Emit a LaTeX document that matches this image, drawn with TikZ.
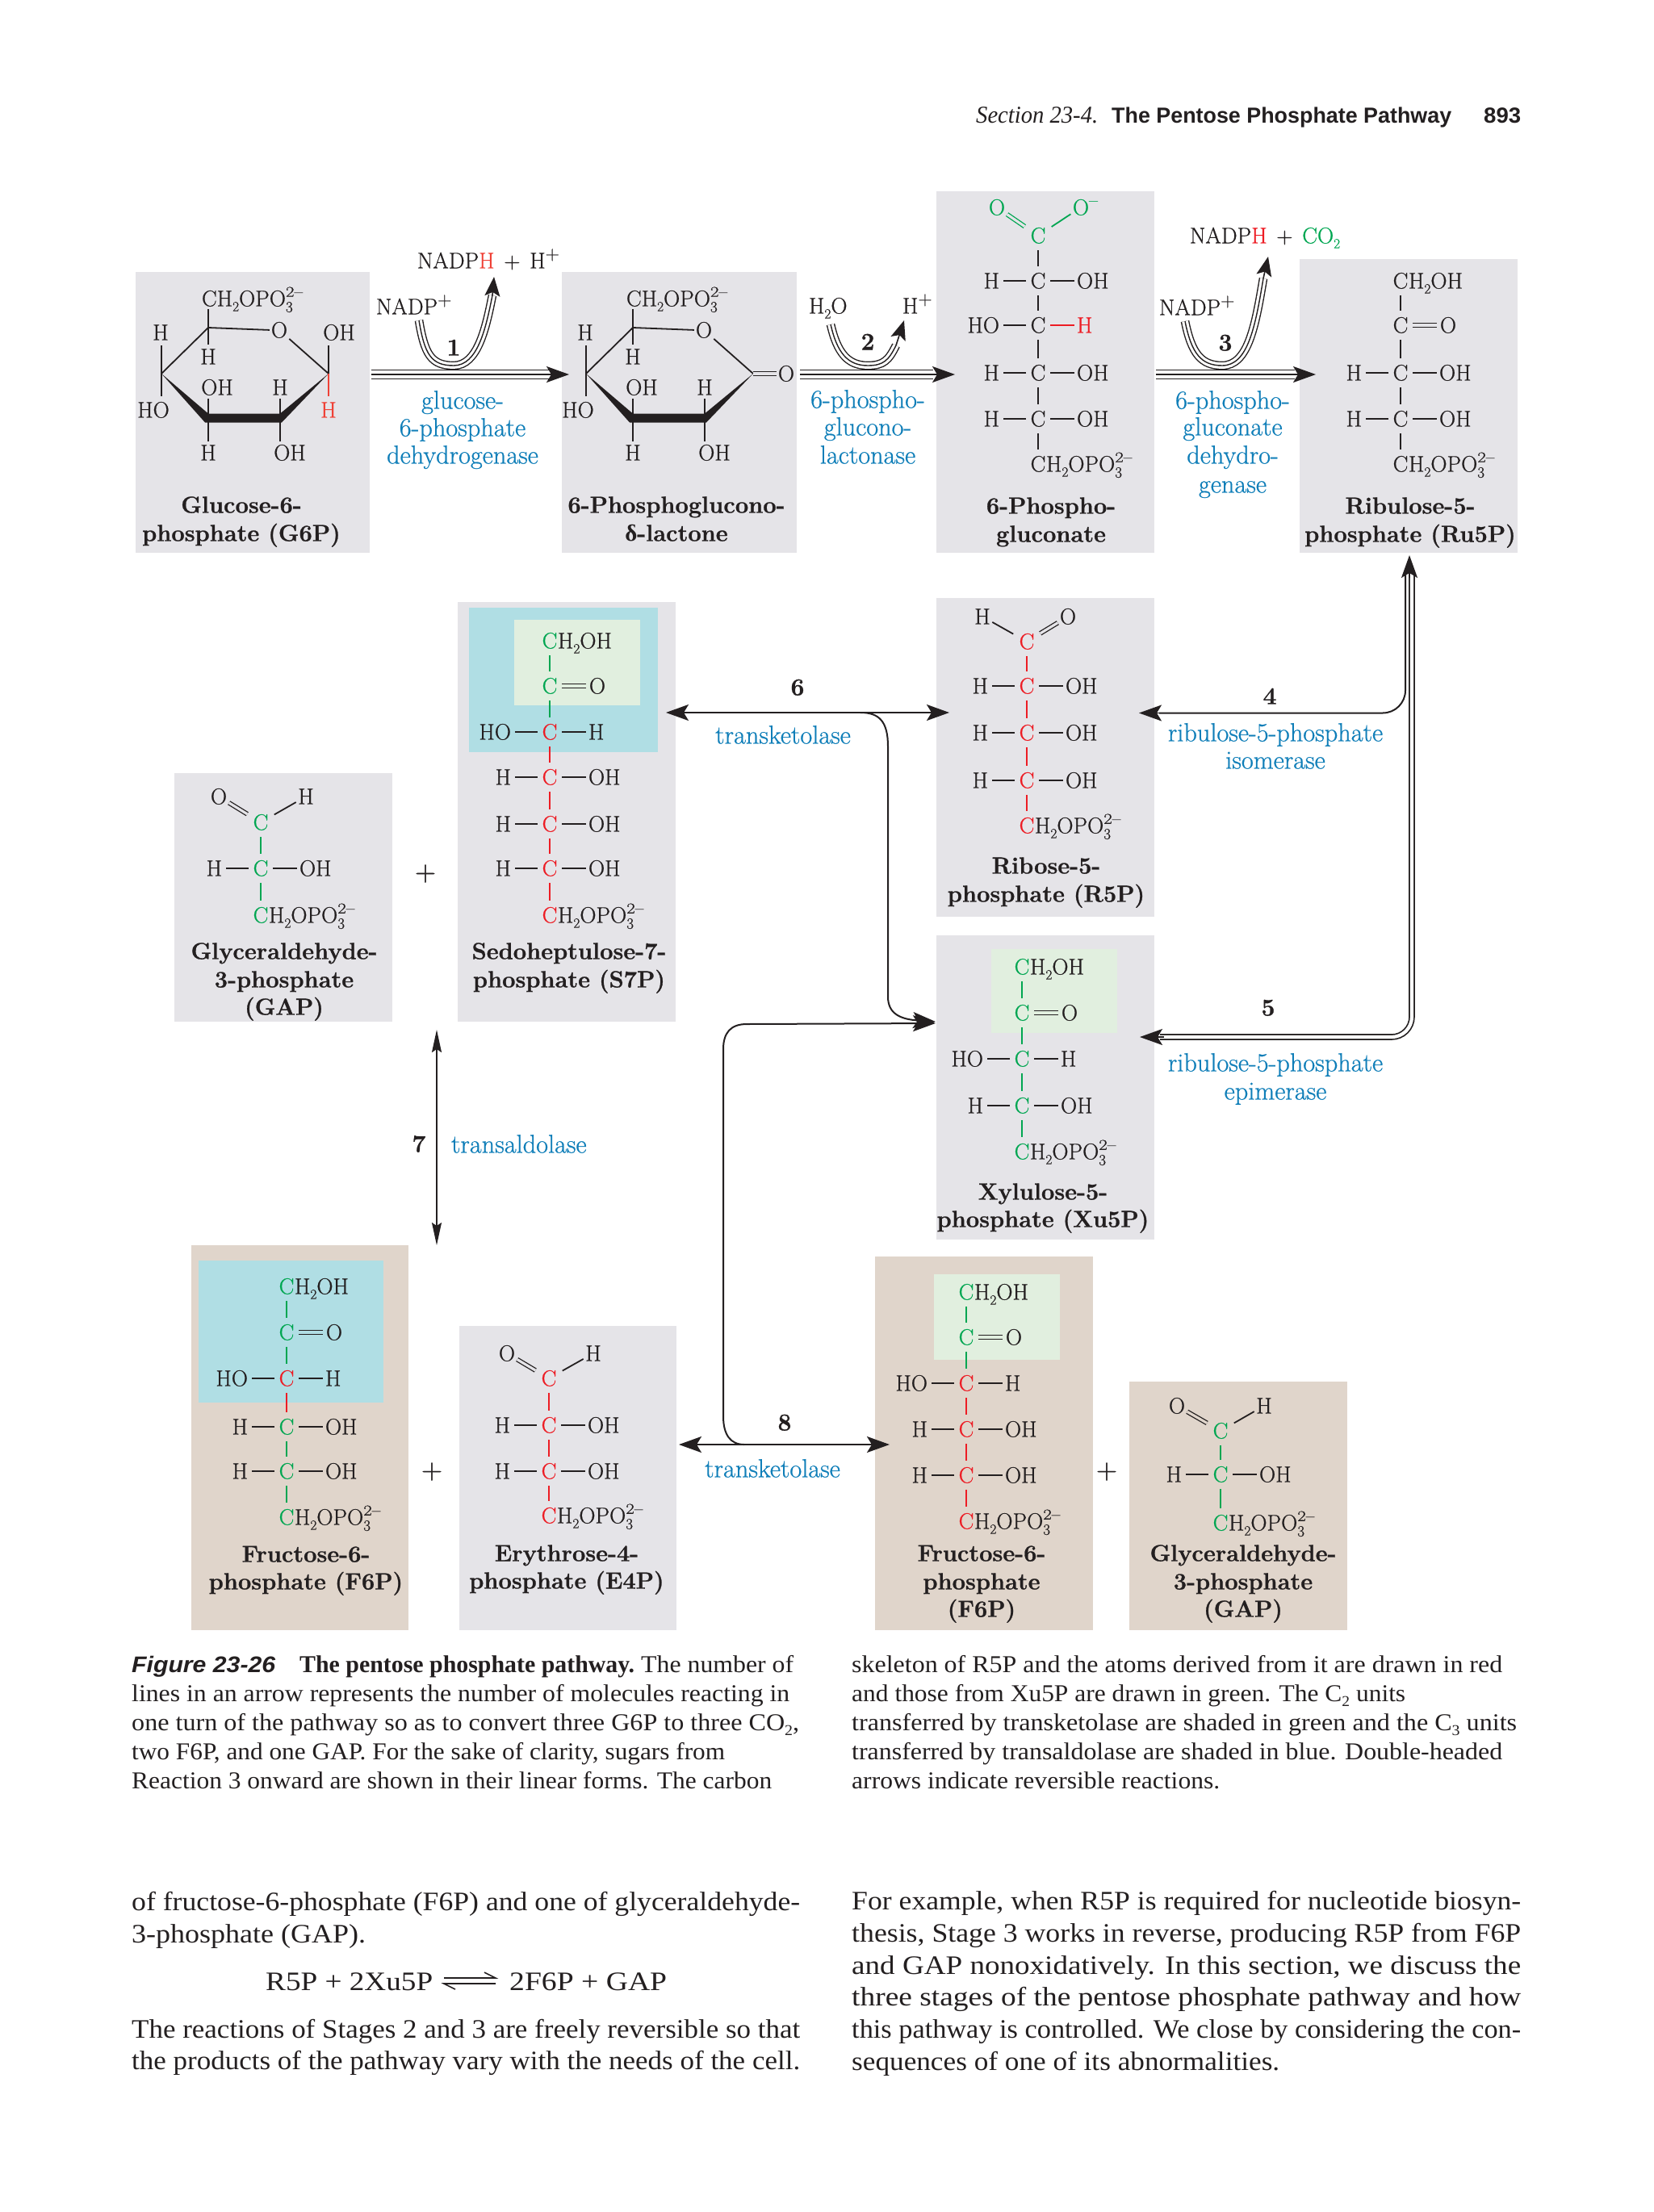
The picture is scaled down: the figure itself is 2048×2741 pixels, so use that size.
\documentclass[tikz,border=0pt]{standalone}
\usepackage{fontspec}
\usepackage{graphicx}
\usetikzlibrary{arrows.meta,calc}
\newfontfamily\lserif{Liberation Serif}
\newfontfamily\lsans{Liberation Sans}
\newfontfamily\chemf{Latin Modern Roman}[FakeBold=0.7]
\newfontfamily\namef{Latin Modern Roman}[FakeBold=0.9]
\definecolor{ink}{HTML}{231F20}
\definecolor{bgrey}{HTML}{E5E4E8}
\definecolor{btan}{HTML}{E0D5CB}
\definecolor{bblue}{HTML}{B0DEE4}
\definecolor{bgreen}{HTML}{E1EFDF}
\definecolor{tblue}{HTML}{0F7EB8}
\definecolor{cgreen}{HTML}{00A651}
\definecolor{cred}{HTML}{ED1C24}
\definecolor{ored}{HTML}{EF4136}
\newcommand\sbs[1]{\raisebox{-.22em}{\scalebox{.62}{#1}}}
\newcommand\spb[1]{\raisebox{.38em}{\scalebox{.85}{#1}}}
\newcommand\stk[2]{\rlap{\raisebox{-.26em}{\scalebox{.68}{#1}}}\raisebox{.42em}{\scalebox{.82}[.66]{#2}}}
\newcommand\opo{H\sbs{2}OPO\stk{3}{2–}}
\newcommand\choh{H\sbs{2}OH}
\newcommand\pls{\hspace{.42em}+\hspace{.42em}}
\newcounter{nn}
\tikzset{
  chem/.style={inner sep=0pt,outer sep=0pt,text=ink,font=\chemf\fontsize{28}{30}\selectfont,text height=19pt,text depth=0pt},
  catom/.style={chem,minimum width=30pt,minimum height=36pt},
  namefont/.style={chem,font=\namef\bfseries\fontsize{29}{30}\selectfont},
  enzfont/.style={chem,text=tblue,font=\chemf\fontsize{32.3}{30}\selectfont},
  numfont/.style={chem,font=\namef\bfseries\fontsize{30}{30}\selectfont},
  plusfont/.style={chem,font=\namef\fontsize{36}{36}\selectfont},
  boxn/.style={inner sep=0pt,outer sep=0pt,draw=none},
  hb/.style={line width=2.2pt,ink},
  vb/.style={line width=1.9pt},
  thinb/.style={line width=1.8pt,ink},
  dbond/.style={double=#1,double distance=3.2pt,line width=1.3pt,ink},
  conn/.style={line width=2pt,ink},
  tri/.style={line width=12.3pt,draw=ink,postaction={draw=white,line width=9.3pt},postaction={draw=ink,line width=1.6pt}},
  tric/.style={line width=10.6pt,draw=ink,postaction={draw=white,line width=7.8pt},postaction={draw=ink,line width=1.4pt}},
  dbl/.style={line width=7.6pt,draw=ink,postaction={draw=white,line width=4.2pt}},
  tiphead/.style={-{Stealth[length=28pt,width=20pt,inset=6pt]},line width=1.6pt,ink},
  tipcurve/.style={-{Stealth[length=24pt,width=19pt,inset=5pt]},line width=1.6pt,ink},
  twoheads/.style={{Stealth[length=28pt,width=20pt,inset=6pt]}-{Stealth[length=28pt,width=20pt,inset=6pt]},conn},
  onehead/.style={-{Stealth[length=28pt,width=20pt,inset=6pt]},conn},
  narrow/.style={{Stealth[length=28pt,width=12pt,inset=4pt]}-{Stealth[length=28pt,width=12pt,inset=4pt]},line width=1.8pt,ink},
}
% box: name x1 y1 x2 y2 colour
\newcommand\bxn[6]{\node[boxn,fill=#6,minimum width={(#4-#2)*1pt},minimum height={(#5-#3)*1pt}] (#1) at ({(#2+#4)/2},{(#3+#5)/2}) {};}
% free labels
\newcommand\lab[4][]{\stepcounter{nn}\node[chem,#1] (auto\arabic{nn}) at (#2,#3) {#4};}
\newcommand\nam[3]{\stepcounter{nn}\node[namefont] (auto\arabic{nn}) at (#1,#2) {#3};}
\newcommand\enz[3]{\stepcounter{nn}\node[enzfont] (auto\arabic{nn}) at (#1,#2) {#3};}
\newcommand\rnum[3]{\stepcounter{nn}\node[numfont] (auto\arabic{nn}) at (#1,#2) {#3};}
\newcommand\plusn[2]{\stepcounter{nn}\node[plusfont] (auto\arabic{nn}) at (#1,#2) {+};}
\newcommand\tline[5]{\stepcounter{nn}\node[anchor=base west,inner sep=0pt,text=ink,font=#1] (auto\arabic{nn}) at (#2,#3) {\resizebox{#4pt}{\height}{#5}};}
% chain pieces
\newcommand\catm[4]{\node[catom,text=#4] (#1) at (#2,#3) {C};}
\newcommand\crow[7]{\catm{#1}{#2}{#3}{#4}%
  \node[chem,anchor=east] (#1l) at ({#2-48},#3) {#5};
  \node[chem,anchor=west] (#1r) at ({#2+48},#3) {#6};
  \draw[hb,shorten >=5pt] (#1.west) -- (#1l.east);
  \draw[hb,#7,shorten >=3pt] (#1.east) -- (#1r.west);}
\newcommand\ctail[5]{\catm{#1}{#2}{#3}{#4}%
  \node[chem,anchor=west] (#1t) at ({#2+10},#3) {#5};}
\newcommand\cket[5]{\catm{#1}{#2}{#3}{#4}%
  \node[chem] (#1o) at ({#2+59},#3) {O};
  \draw[dbond=#5,shorten >=4pt] (#1.east) -- (#1o.west);}
% aldehyde: name x y col  Hx Ox yHO bg
\newcommand\cald[8]{\catm{#1}{#2}{#3}{#4}%
  \node[chem] (#1h) at (#5,#7) {H};
  \node[chem] (#1o) at (#6,#7) {O};
  \draw[thinb,shorten >=2pt,shorten <=3pt] (#1h) -- (#1);
  \draw[dbond=#8,shorten >=2pt,shorten <=3pt] (#1o) -- (#1);}
\newcommand\cb[3]{\draw[vb,#3] (#1.south) -- (#2.north);}
% pyranose ring (common parts)
\newcommand\ringcore[1]{%
  \coordinate (#1c5) at (258,406);\coordinate (#1c4) at (200,463);\coordinate (#1c3) at (258,517);
  \coordinate (#1c2) at (347,517);\coordinate (#1c1) at (407,463);
  \node[chem] (#1O) at (346,409) {O};
  \node[chem,anchor=west] (#1ch) at (250,370) {C\opo};
  \node[chem] (#1h4) at (199,412) {H};
  \node[chem] (#1ho) at (190,508) {HO};
  \node[chem] (#1h5) at (258,442) {H};
  \node[chem] (#1oh3) at (269,480) {OH};
  \node[chem] (#1h3) at (258,561) {H};
  \node[chem] (#1h2) at (347,480) {H};
  \node[chem] (#1oh2) at (359,561) {OH};
  \fill[ink] (#1c4) -- (258,512.5) -- (347,512.5) -- (#1c1) -- (349,523.5) -- (254,523.5) -- cycle;
  \draw[thinb] (#1c4) -- (#1c5);
  \draw[thinb,shorten >=2pt] (#1c5) -- (#1O.west);
  \draw[thinb,shorten <=3pt] (#1O) -- (#1c1);
  \draw[thinb,shorten >=3pt] (#1c5) -- (#1c5 |- #1ch.south);
  \draw[thinb,shorten >=6pt] (#1c5) -- (#1h5.north);
  \draw[thinb,shorten >=6pt] (#1c4) -- (#1c4 |- #1h4.south);
  \draw[thinb,shorten >=8pt] (#1c4) -- (#1c4 |- #1ho.north);
  \draw[thinb,shorten >=4pt] (#1c3) -- (#1c3 |- #1oh3.south);
  \draw[thinb,shorten >=5pt] (#1c3) -- (#1h3.north);
  \draw[thinb,shorten >=4pt] (#1c2) -- (#1h2.south);
  \draw[thinb,shorten >=5pt] (#1c2) -- (#1c2 |- #1oh2.north);
}
\begin{document}
\begin{tikzpicture}[x=1pt,y=-1pt]
\useasboundingbox (0,0) rectangle (2048,2741);
% ---- shaded boxes
\bxn{g6p}{168}{337}{458}{685}{bgrey}
\bxn{lact}{696}{337}{987}{685}{bgrey}
\bxn{pg}{1160}{237}{1430}{685}{bgrey}
\bxn{ru5p}{1610}{321}{1880}{685}{bgrey}
\bxn{gapa}{216}{958}{486}{1266}{bgrey}
\bxn{s7p}{567}{746}{837}{1266}{bgrey}
\bxn{s7blue}{581}{753}{815}{932}{bblue}
\bxn{s7green}{637}{768}{793}{874}{bgreen}
\bxn{r5p}{1160}{741}{1430}{1136}{bgrey}
\bxn{xu5p}{1160}{1159}{1430}{1536}{bgrey}
\bxn{xugreen}{1228}{1176}{1384}{1280}{bgreen}
\bxn{f6pl}{237}{1543}{506}{2020}{btan}
\bxn{f6blue}{246}{1562}{475}{1738}{bblue}
\bxn{e4p}{569}{1643}{838}{2020}{bgrey}
\bxn{f6pr}{1084}{1557}{1354}{2020}{btan}
\bxn{f6green}{1157}{1579}{1313}{1685}{bgreen}
\bxn{gapb}{1399}{1712}{1669}{2020}{btan}
% ---- header
\tline{\lserif\itshape\fontsize{30}{30}\selectfont}{1209}{152}{151}{Section 23-4.}
\tline{\lsans\bfseries\fontsize{27}{30}\selectfont}{1377}{152}{421}{The Pentose Phosphate Pathway}
\tline{\lsans\bfseries\fontsize{27}{30}\selectfont}{1838}{152}{46}{893}
% ---- G6P ring
\ringcore{a}
\node[chem] (aoh1) at (420,412) {OH};
\node[chem,text=ored] (ah1) at (407,508) {H};
\draw[thinb,shorten >=6pt] (ac1) -- (ac1 |- aoh1.south);
\draw[line width=1.8pt,ored,shorten >=8pt] (ac1) -- (ah1.north);
\nam{299}{626}{Glucose-6-}
\nam{299}{661}{phosphate (G6P)}
% ---- lactone ring
\begin{scope}[xshift=526pt]
\ringcore{b}
\node[chem] (boe) at (448,463) {O};
\draw[dbond=bgrey,shorten >=2pt] (bc1) -- (boe.west);
\end{scope}
\nam{838}{626}{6-Phosphoglucono-}
\nam{838}{661}{{\lserif\bfseries δ}-lactone}
% ---- 6-phosphogluconate
\node[chem,text=cgreen] (pgo1) at (1235,257) {O};
\node[chem,text=cgreen] (pgo2) at (1339,257) {O\rlap{\spb{–}}};
\catm{pgc}{1286}{292}{cgreen}
\draw[dbond=bgrey,draw=cgreen,shorten >=2pt,shorten <=3pt] (pgo1) -- (pgc);
\draw[line width=1.8pt,cgreen,shorten >=2pt,shorten <=3pt] (pgo2) -- (pgc);
\crow{pga}{1286}{348}{ink}{H}{OH}{}
\crow{pgb}{1286}{403}{ink}{HO}{\textcolor{cred}{H}}{cred}
\crow{pgd}{1286}{462}{ink}{H}{OH}{}
\crow{pge}{1286}{519}{ink}{H}{OH}{}
\ctail{pgf}{1286}{575}{ink}{\opo}
\cb{pgc}{pga}{ink}\cb{pga}{pgb}{ink}\cb{pgb}{pgd}{ink}\cb{pgd}{pge}{ink}\cb{pge}{pgf}{ink}
\nam{1302}{627}{6-Phospho-}
\nam{1302}{662}{gluconate}
% ---- Ru5P
\ctail{rua}{1735}{348}{ink}{\choh}
\cket{rub}{1735}{403}{ink}{bgrey}
\crow{ruc}{1735}{462}{ink}{H}{OH}{}
\crow{rud}{1735}{519}{ink}{H}{OH}{}
\ctail{rue}{1735}{575}{ink}{\opo}
\cb{rua}{rub}{ink}\cb{rub}{ruc}{ink}\cb{ruc}{rud}{ink}\cb{rud}{rue}{ink}
\nam{1747}{627}{Ribulose-5-}
\nam{1747}{662}{phosphate (Ru5P)}
% ---- GAP (upper)
\cald{gaa}{323}{1019}{cgreen}{379}{271}{987}{bgrey}
\crow{gab}{323}{1076}{cgreen}{H}{OH}{}
\ctail{gac}{323}{1134}{cgreen}{\opo}
\cb{gaa}{gab}{cgreen}\cb{gab}{gac}{cgreen}
\nam{352}{1179}{Glyceraldehyde-}
\nam{352}{1214}{3-phosphate}
\nam{352}{1248}{(GAP)}
\plusn{527}{1082}
% ---- S7P
\ctail{sa}{681}{794}{cgreen}{\choh}
\cket{sb}{681}{850}{cgreen}{bgreen}
\crow{sc}{681}{907}{cred}{HO}{H}{}
\crow{sd}{681}{963}{cred}{H}{OH}{}
\crow{se}{681}{1021}{cred}{H}{OH}{}
\crow{sf}{681}{1076}{cred}{H}{OH}{}
\ctail{sg}{681}{1134}{cred}{\opo}
\cb{sa}{sb}{cgreen}\cb{sb}{sc}{cgreen}\cb{sc}{sd}{cred}\cb{sd}{se}{cred}\cb{se}{sf}{cred}\cb{sf}{sg}{cred}
\nam{705}{1179}{Sedoheptulose-7-}
\nam{705}{1214}{phosphate (S7P)}
% ---- R5P
\cald{ra}{1272}{795}{cred}{1217}{1323}{764}{bgrey}
\crow{rb}{1272}{850}{cred}{H}{OH}{}
\crow{rc}{1272}{908}{cred}{H}{OH}{}
\crow{rd}{1272}{967}{cred}{H}{OH}{}
\ctail{re}{1272}{1023}{cred}{\opo}
\cb{ra}{rb}{cred}\cb{rb}{rc}{cred}\cb{rc}{rd}{cred}\cb{rd}{re}{cred}
\nam{1296}{1073}{Ribose-5-}
\nam{1296}{1108}{phosphate (R5P)}
% ---- Xu5P
\ctail{xa}{1266}{1198}{cgreen}{\choh}
\cket{xb}{1266}{1255}{cgreen}{bgreen}
\crow{xc}{1266}{1312}{cgreen}{HO}{H}{}
\crow{xd}{1266}{1370}{cgreen}{H}{OH}{}
\ctail{xe}{1266}{1427}{cgreen}{\opo}
\cb{xa}{xb}{cgreen}\cb{xb}{xc}{cgreen}\cb{xc}{xd}{cgreen}\cb{xd}{xe}{cgreen}
\nam{1292}{1477}{Xylulose-5-}
\nam{1292}{1511}{phosphate (Xu5P)}
% ---- F6P left
\ctail{fa}{355}{1594}{cgreen}{\choh}
\cket{fb}{355}{1651}{cgreen}{bblue}
\crow{fc}{355}{1708}{cred}{HO}{H}{}
\crow{fd}{355}{1768}{cgreen}{H}{OH}{}
\crow{fe}{355}{1823}{cgreen}{H}{OH}{}
\ctail{ff}{355}{1880}{cgreen}{\opo}
\cb{fa}{fb}{cgreen}\cb{fb}{fc}{cgreen}\cb{fc}{fd}{cred}\cb{fd}{fe}{cgreen}\cb{fe}{ff}{cgreen}
\nam{379}{1926}{Fructose-6-}
\nam{379}{1960}{phosphate (F6P)}
\plusn{535}{1823}
% ---- E4P
\cald{ea}{680}{1708}{cred}{735}{628}{1677}{bgrey}
\crow{eb}{680}{1766}{cred}{H}{OH}{}
\crow{ec}{680}{1823}{cred}{H}{OH}{}
\ctail{ed}{680}{1878}{cred}{\opo}
\cb{ea}{eb}{cred}\cb{eb}{ec}{cred}\cb{ec}{ed}{cred}
\nam{702}{1925}{Erythrose-4-}
\nam{702}{1959}{phosphate (E4P)}
% ---- F6P right
\ctail{pa}{1197}{1601}{cgreen}{\choh}
\cket{pb}{1197}{1657}{cgreen}{bgreen}
\crow{pc}{1197}{1714}{cred}{HO}{H}{}
\crow{pd}{1197}{1771}{cred}{H}{OH}{}
\crow{pee}{1197}{1828}{cred}{H}{OH}{}
\ctail{pff}{1197}{1885}{cred}{\opo}
\cb{pa}{pb}{cgreen}\cb{pb}{pc}{cgreen}\cb{pc}{pd}{cred}\cb{pd}{pee}{cred}\cb{pee}{pff}{cred}
\nam{1216}{1925}{Fructose-6-}
\nam{1216}{1960}{phosphate}
\nam{1216}{1994}{(F6P)}
\plusn{1371}{1823}
% ---- GAP (lower)
\cald{gba}{1512}{1773}{cgreen}{1566}{1458}{1742}{btan}
\crow{gbb}{1512}{1827}{cgreen}{H}{OH}{}
\ctail{gbc}{1512}{1887}{cgreen}{\opo}
\cb{gba}{gbb}{cgreen}\cb{gbb}{gbc}{cgreen}
\nam{1540}{1925}{Glyceraldehyde-}
\nam{1540}{1960}{3-phosphate}
\nam{1540}{1994}{(GAP)}
% ---- reaction 1
\coordinate (ry) at (0,464);
\coordinate (u1s) at (519,397);\coordinate (u1b) at (562,453);\coordinate (u1e) at (610,366);\coordinate (u1t) at (612,343);
\draw[tric] (u1s) .. controls +(7,42) and +(-28,0) .. (u1b) .. controls +(30,0) and +(-8,40) .. (u1e);
\draw[tipcurve] (u1e) -- (u1t);
\draw[tri] ($(g6p.east |- ry)+(2,0)$) -- ($(lact.west |- ry)+(-16,0)$);
\draw[tiphead] ($(lact.west |- ry)+(-20,0)$) -- ($(lact.west |- ry)+(9,0)$);
\lab[anchor=west]{466}{380}{NADP\spb{+}}
\lab[anchor=west]{517}{323}{NADP\textcolor{ored}{H}\pls H\spb{+}}
\rnum{562}{431}{1}
\enz{573}{497}{glucose-}
\enz{573}{531}{6-phosphate}
\enz{573}{565}{dehydrogenase}
% ---- reaction 2
\coordinate (u2s) at (1029,402);\coordinate (u2b) at (1075,453);\coordinate (u2e) at (1110,428);\coordinate (u2t) at (1120,397);
\draw[tric] (u2s) .. controls +(8,35) and +(-25,0) .. (u2b) .. controls +(20,0) and +(-9,18) .. (u2e);
\draw[tipcurve] (u2e) -- (u2t);
\draw[tri] ($(lact.east |- ry)+(4,0)$) -- ($(pg.west |- ry)+(-4,0)$);
\draw[tiphead] ($(pg.west |- ry)+(-8,0)$) -- ($(pg.west |- ry)+(23,0)$);
\lab[anchor=west]{1002}{379}{H\sbs{2}O}
\lab[anchor=west]{1118}{379}{H\spb{+}}
\rnum{1075}{424}{2}
\enz{1075}{496}{6-phospho-}
\enz{1075}{530}{glucono-}
\enz{1075}{565}{lactonase}
% ---- reaction 3
\coordinate (u3s) at (1468,398);\coordinate (u3b) at (1514,453);\coordinate (u3e) at (1565,345);\coordinate (u3t) at (1571,318);
\draw[tric] (u3s) .. controls +(8,40) and +(-26,0) .. (u3b) .. controls +(32,0) and +(-10,60) .. (u3e);
\draw[tipcurve] (u3e) -- (u3t);
\draw[tri] ($(pg.east |- ry)+(2,0)$) -- ($(ru5p.west |- ry)+(-6,0)$);
\draw[tiphead] ($(ru5p.west |- ry)+(-10,0)$) -- ($(ru5p.west |- ry)+(20,0)$);
\lab[anchor=west]{1436}{381}{NADP\spb{+}}
\lab[anchor=west]{1474}{292}{NADP\textcolor{cred}{H}\pls\textcolor{cgreen}{CO\sbs{2}}}
\rnum{1518}{425}{3}
\enz{1527}{497}{6-phospho-}
\enz{1527}{530}{gluconate}
\enz{1527}{565}{dehydro-}
\enz{1527}{601}{genase}
% ---- reactions 4 and 5
\coordinate (tr) at ($(ru5p.south)+(1,27)$);
\coordinate (t4) at ($(r5p.west)+(251,-55)$);
\coordinate (t5) at ($(xu5p.north east)+(-18,126)$);
\draw[conn,rounded corners=28pt] ($(tr)+(-5,0)$) |- ($(t4)+(25,0)$);
\draw[dbl,rounded corners=25pt] ($(tr)+(3,0)$) |- ($(t5)+(25,0)$);
\draw[tiphead] ($(tr)+(0,4)$) -- ($(ru5p.south)+(1,3)$);
\draw[tiphead] ($(t4)+(30,0)$) -- (t4);
\draw[tiphead] ($(t5)+(30,0)$) -- (t5);
\rnum{1573}{863}{4}
\enz{1580}{909}{ribulose-5-phosphate}
\enz{1580}{943}{isomerase}
\rnum{1571}{1249}{5}
\enz{1580}{1318}{ribulose-5-phosphate}
\enz{1580}{1353}{epimerase}
% ---- reaction 6
\coordinate (y6) at (0,883);
\coordinate (y6x) at (0,1266);
\draw[twoheads] ($(s7p.east |- y6)+(-12,0)$) -- ($(r5p.west |- y6)+(16,0)$);
\draw[onehead] (1066,883) .. controls (1090,883) and (1100,895) .. (1100,925) -- (1100,1235) .. controls (1100,1256) and (1115,1263) .. ($(xu5p.west |- y6x)+(-1,0)$);
\rnum{988}{852}{6}
\enz{970}{912}{transketolase}
% ---- reaction 7
\draw[narrow] ($(s7p.south west)+(-26,10)$) -- ($(f6pl.north east)+(35,0)$);
\rnum{519}{1418}{7}
\stepcounter{nn}\node[enzfont,anchor=west] (auto\arabic{nn}) at (559,1419) {transaldolase};
% ---- reaction 8
\coordinate (y8) at (0,1790);
\draw[twoheads] ($(e4p.east |- y8)+(3,0)$) -- ($(f6pr.west |- y8)+(18,0)$);
\draw[onehead] (922,1790) .. controls (905,1790) and (896,1778) .. (896,1755) -- (896,1300) .. controls (896,1280) and (905,1269) .. (925,1269) -- ($(xu5p.west |- y6x)+(-1,2)$);
\rnum{972}{1763}{8}
\enz{957}{1821}{transketolase}
% ---- caption, left column
\def\cf{\lserif\fontsize{30}{36}\selectfont}
\tline{\lsans\bfseries\itshape\fontsize{28}{36}\selectfont\color{tblue}}{163}{2072}{178}{Figure 23-26}
\tline{\lserif\bfseries\fontsize{30}{36}\selectfont}{371}{2072}{415}{The pentose phosphate pathway.}
\tline{\cf}{794}{2072}{189}{The number of}
\tline{\cf}{163}{2108}{815}{lines in an arrow represents the number of molecules reacting in}
\tline{\cf}{163}{2144}{827}{one turn of the pathway so as to convert three G6P to three CO\sbs{2},}
\tline{\cf}{163}{2180}{735}{two F6P, and one GAP. For the sake of clarity, sugars from}
\tline{\cf}{163}{2216}{793}{Reaction 3 onward are shown in their linear forms. The carbon}
% ---- caption, right column
\tline{\cf}{1055}{2072}{806}{skeleton of R5P and the atoms derived from it are drawn in red}
\tline{\cf}{1055}{2108}{686}{and those from Xu5P are drawn in green. The C\sbs{2} units}
\tline{\cf}{1055}{2144}{824}{transferred by transketolase are shaded in green and the C\sbs{3} units}
\tline{\cf}{1055}{2180}{806}{transferred by transaldolase are shaded in blue. Double-headed}
\tline{\cf}{1055}{2216}{456}{arrows indicate reversible reactions.}
% ---- body text, left column
\def\bft{\lserif\fontsize{33}{39}\selectfont}
\tline{\bft}{163}{2367}{828}{of fructose-6-phosphate (F6P) and one of glyceraldehyde-}
\tline{\bft}{163}{2407}{290}{3-phosphate (GAP).}
\tline{\bft}{329}{2466}{207}{R5P + 2Xu5P}
\tline{\bft}{631}{2466}{195}{2F6P + GAP}
\coordinate (eql) at (550,2451);\coordinate (eqr) at (614,2451);
\coordinate (eql2) at (550,2458);\coordinate (eqr2) at (614,2458);
\draw[line width=1.6pt,ink] (eql) -- (eqr) -- ($(eqr)+(-14,-7)$);
\draw[line width=1.6pt,ink] (eqr2) -- (eql2) -- ($(eql2)+(14,7)$);
\tline{\bft}{163}{2525}{828}{The reactions of Stages 2 and 3 are freely reversible so that}
\tline{\bft}{163}{2564}{828}{the products of the pathway vary with the needs of the cell.}
% ---- body text, right column
\tline{\bft}{1055}{2366}{829}{For example, when R5P is required for nucleotide biosyn-}
\tline{\bft}{1055}{2406}{829}{thesis, Stage 3 works in reverse, producing R5P from F6P}
\tline{\bft}{1055}{2446}{829}{and GAP nonoxidatively. In this section, we discuss the}
\tline{\bft}{1055}{2485}{829}{three stages of the pentose phosphate pathway and how}
\tline{\bft}{1055}{2525}{829}{this pathway is controlled. We close by considering the con-}
\tline{\bft}{1055}{2565}{530}{sequences of one of its abnormalities.}
\end{tikzpicture}
\end{document}
